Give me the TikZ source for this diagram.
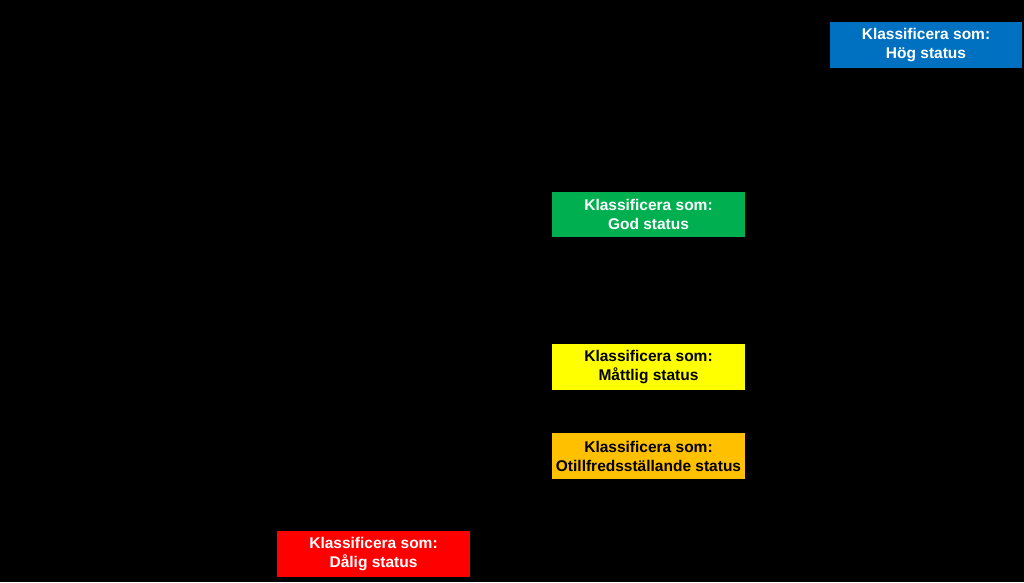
\documentclass[tikz,border=0pt]{standalone}
\usepackage{fontspec}
\setmainfont{Liberation Sans}
\definecolor{cblue}{HTML}{0070C0}
\definecolor{cgreen}{HTML}{00B050}
\definecolor{cyellow}{HTML}{FFFF00}
\definecolor{corange}{HTML}{FFC000}
\definecolor{cred}{HTML}{FF0000}
\tikzset{
  statusbox/.style={rectangle, inner sep=0pt, minimum width=193pt, minimum height=46pt,
    align=center, font=\fontsize{15.5}{19}\selectfont\bfseries},
}
\begin{document}
\begin{tikzpicture}[x=1pt,y=-1pt]
\fill[black] (0,0) rectangle (1024,582);
\useasboundingbox (0,0) rectangle (1024,582);
\node[statusbox, fill=cblue, text=white, minimum width=192pt] (hog) at (926,45) {Klassificera som:\\Hög status};
\node[statusbox, fill=cgreen, text=white, minimum height=45pt] (god) at (648.5,214.5) {Klassificera som:\\God status};
\node[statusbox, fill=cyellow, text=black] (mattlig) at (648.5,367) {Klassificera som:\\Måttlig status};
\node[statusbox, fill=corange, text=black] (otill) at (648.5,456) {Klassificera som:\\Otillfredsställande status};
\node[statusbox, fill=cred, text=white] (dalig) at (373.5,554) {Klassificera som:\\Dålig status};
\end{tikzpicture}
\end{document}
